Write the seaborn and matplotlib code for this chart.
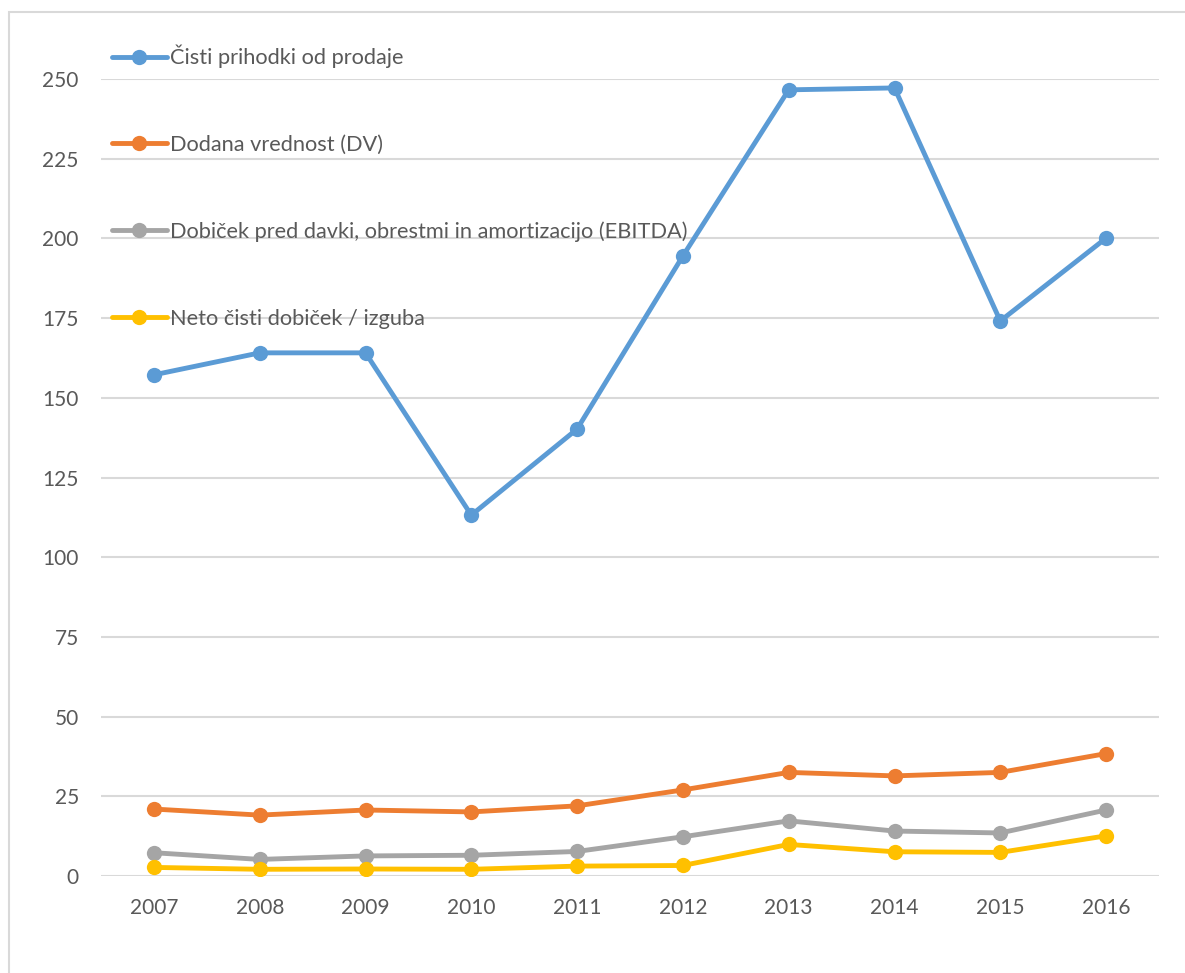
import matplotlib
matplotlib.use("Agg")
import matplotlib.pyplot as plt
from matplotlib.patches import Rectangle
import seaborn as sns
import pandas as pd

years = [2007, 2008, 2009, 2010, 2011, 2012, 2013, 2014, 2015, 2016]
prihodki = [157.2, 164.1, 164.1, 113.2, 140.2, 194.5, 246.6, 247.2, 174.1, 200.1]
dodana = [21.0, 19.1, 20.7, 20.1, 22.0, 27.0, 32.5, 31.4, 32.5, 38.4]
ebitda = [7.3, 5.2, 6.3, 6.5, 7.7, 12.3, 17.3, 14.1, 13.5, 20.7]
neto = [2.7, 2.1, 2.2, 2.1, 3.1, 3.3, 9.9, 7.6, 7.4, 12.6]

series_names = [
    "Čisti prihodki od prodaje",
    "Dodana vrednost (DV)",
    "Dobiček pred davki, obrestmi in amortizacijo (EBITDA)",
    "Neto čisti dobiček / izguba",
]
colors = ["#5B9BD5", "#ED7D31", "#A5A5A5", "#FFC000"]
y_ticks = [0, 25, 50, 75, 100, 125, 150, 175, 200, 225, 250]

df = pd.concat(
    [
        pd.DataFrame({"leto": years, "vrednost": vals, "serija": name})
        for name, vals in zip(series_names, [prihodki, dodana, ebitda, neto])
    ],
    ignore_index=True,
)

sns.set_theme(style="white")
plt.rcParams["font.family"] = ["Lato", "DejaVu Sans"]

W, H = 1185, 973
LW, MS = 3.5, 11
fig = plt.figure(figsize=(W / 100, H / 100), dpi=100)
ax = fig.add_axes([101 / W, (H - 876) / H, (1159 - 101) / W, (876 - 79) / H])

sns.lineplot(
    data=df, x="leto", y="vrednost", hue="serija", hue_order=series_names,
    palette=colors, marker="o", markersize=MS, markeredgewidth=0,
    linewidth=LW, ax=ax, legend=False,
)

ax.set_xlim(2006.5, 2016.5)
ax.set_ylim(0, 250)
ax.set_xticks(years)
ax.set_xticklabels([str(y) for y in years])
ax.set_yticks(y_ticks)
ax.set_yticklabels([str(v) for v in y_ticks])
ax.yaxis.grid(True, color="#D9D9D9", linewidth=1.5)
ax.xaxis.grid(False)
ax.set_axisbelow(True)
for s in ax.spines.values():
    s.set_visible(False)
ax.set_xlabel("")
ax.set_ylabel("")
ax.tick_params(axis="both", length=0, labelsize=15, colors="#595959")
ax.tick_params(axis="y", pad=16)
ax.tick_params(axis="x", pad=16)

handles = [
    plt.Line2D([], [], color=c, marker="o", markersize=MS, markeredgewidth=0, linewidth=LW)
    for c in colors
]
leg = fig.legend(
    handles, series_names, loc="upper left",
    bbox_to_anchor=(112 / W, 1 - 45 / H), frameon=False,
    fontsize=15.7, labelcolor="#595959", handlelength=2.5, handletextpad=0.18,
    labelspacing=3.05, borderpad=0, borderaxespad=0,
)

fig.patches.append(
    Rectangle((9 / W, -0.1), 2, (H - 12) / H + 0.1, transform=fig.transFigure,
              fill=False, edgecolor="#D9D9D9", linewidth=1.5)
)

fig.savefig("out.png", dpi=100, facecolor="white")
